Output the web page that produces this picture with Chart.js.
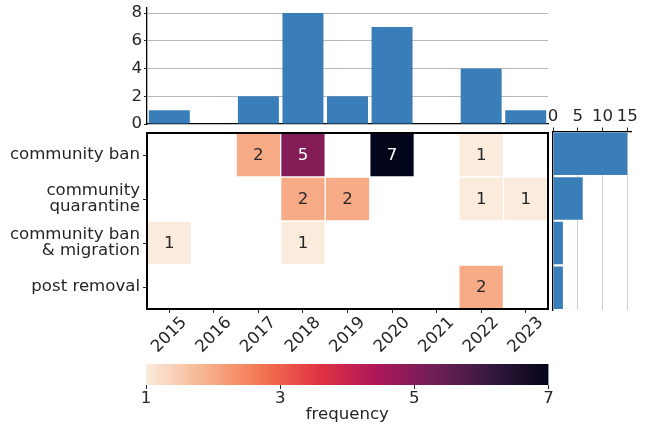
<!DOCTYPE html>
<html><head><meta charset="utf-8">
<script src="https://cdn.jsdelivr.net/npm/chart.js@4.4.1/dist/chart.umd.min.js"></script>
<style>
html,body{margin:0;padding:0;background:#fff;width:645px;height:429px;overflow:hidden;}
.box{position:absolute;}
</style></head><body>
<div class="box" style="left:0;top:125px;width:552px;height:235px"><canvas id="heat"></canvas></div>
<div class="box" style="left:0;top:0;width:552px;height:128px"><canvas id="topbar"></canvas></div>
<div class="box" style="left:547px;top:100px;width:98px;height:215px"><canvas id="rightbar"></canvas></div>
<div class="box" style="left:100px;top:355px;width:500px;height:74px"><canvas id="cbar"></canvas></div>
<script>
// ---------------- data ----------------
const years = ['2015','2016','2017','2018','2019','2020','2021','2022','2023'];
const categories = ['community ban', 'community quarantine', 'community ban & migration', 'post removal'];
const categoryTickLabels = [['community ban'], ['community', 'quarantine'], ['community ban', '& migration'], ['post removal']];
const communityBan        = [0, 0, 2, 5, 0, 7, 0, 1, 0];
const communityQuarantine = [0, 0, 0, 2, 2, 0, 0, 1, 1];
const banAndMigration     = [1, 0, 0, 1, 0, 0, 0, 0, 0];
const postRemoval         = [0, 0, 0, 0, 0, 0, 0, 2, 0];
const topTicks = [0, 2, 4, 6, 8];
const rightTicks = [0, 5, 10, 15];
const colorbarTicks = [1, 3, 5, 7];
const colorbarLabel = 'frequency';

// ---------------- derived ----------------
const rows = [communityBan, communityQuarantine, banAndMigration, postRemoval];
const yearTotals = years.map((_, i) => rows.reduce((s, r) => s + r[i], 0));
const rowTotals = rows.map(r => r.reduce((s, v) => s + v, 0));
const nonZero = rows.flat().filter(v => v > 0);
const cbMin = Math.min(...nonZero), cbMax = Math.max(...nonZero);

// ---------------- style ----------------
const FONT = "'DejaVu Sans', sans-serif";
const FS = 16.6;
const TXT = '#262626';
const BAR = '#3a7eb9';
Chart.defaults.font.family = FONT;
Chart.defaults.font.size = FS;
Chart.defaults.color = TXT;

const ROCKET = [[0,'#03051a'],[1/7,'#35193e'],[2/7,'#701f57'],[3/7,'#ad1759'],[4/7,'#e13342'],[5/7,'#f37651'],[6/7,'#f6b48f'],[1,'#faebdd']];
function hex2rgb(h){return [parseInt(h.slice(1,3),16),parseInt(h.slice(3,5),16),parseInt(h.slice(5,7),16)];}
function rocketRGB(p){
  p = Math.max(0, Math.min(1, p));
  for (let i = 0; i < ROCKET.length - 1; i++) {
    const [p0,c0] = ROCKET[i], [p1,c1] = ROCKET[i+1];
    if (p <= p1) {
      const f = (p - p0) / (p1 - p0), a = hex2rgb(c0), b = hex2rgb(c1);
      return a.map((v,k) => Math.round(v + (b[k]-v)*f));
    }
  }
  return hex2rgb(ROCKET[ROCKET.length-1][1]);
}
function heatRGB(v){ return rocketRGB(1 - (v - cbMin) / (cbMax - cbMin)); }
function heatColor(v){ const c = heatRGB(v); return `rgb(${c[0]},${c[1]},${c[2]})`; }
function textColor(v){
  const lin = heatRGB(v).map(x => { x /= 255; return x <= 0.03928 ? x/12.92 : Math.pow((x+0.055)/1.055, 2.4); });
  const L = 0.2126*lin[0] + 0.7152*lin[1] + 0.0722*lin[2];
  return L > 0.408 ? TXT : '#ffffff';
}
function zeroPad(s){ s.paddingTop = 0; s.paddingBottom = 0; s.paddingLeft = 0; s.paddingRight = 0; }
const common = { animation:false, responsive:true, maintainAspectRatio:false,
  plugins:{ legend:{display:false}, tooltip:{enabled:false} } };

// ---------------- heatmap ----------------
const cellLabels = {
  id:'cellLabels',
  afterDatasetsDraw(chart){
    const ctx = chart.ctx;
    ctx.save();
    ctx.font = `${FS}px ${FONT}`;
    ctx.textAlign = 'center';
    ctx.textBaseline = 'middle';
    chart.data.datasets.forEach((ds, di) => {
      chart.getDatasetMeta(di).data.forEach((el, i) => {
        const v = ds.counts[i];
        if (!v) return;
        const p = el.getCenterPoint();
        ctx.fillStyle = textColor(v);
        ctx.fillText(String(v), p.x, p.y + 1);
      });
    });
    ctx.restore();
  }
};
const frame = {
  id:'frame',
  afterDraw(chart){
    const {ctx, chartArea:a} = chart;
    ctx.save(); ctx.strokeStyle = '#000'; ctx.lineWidth = 2;
    ctx.strokeRect(a.left, a.top, a.right - a.left, a.bottom - a.top);
    ctx.restore();
  }
};
new Chart(document.getElementById('heat'), {
  type:'bar',
  data:{
    labels: years,
    datasets: rows.map((r, ri) => ({
      label: categories[ri],
      counts: r,
      data: r.map(v => v > 0 ? [ri - 0.5, ri + 0.5] : null),
      backgroundColor: r.map(v => v > 0 ? heatColor(v) : 'rgba(0,0,0,0)'),
      borderColor:'#ffffff', borderWidth:1, borderSkipped:false,
      grouped:false, categoryPercentage:1, barPercentage:1
    }))
  },
  options:{ ...common,
    layout:{padding:{top:8, right:4, left:0, bottom:0}},
    scales:{
      x:{ ticks:{autoSkip:false, minRotation:45, maxRotation:45, padding:0, labelOffset:15},
          grid:{display:true, offset:false, drawOnChartArea:false, tickLength:4, tickColor:TXT},
          border:{display:false},
          afterFit:s => { s.height = 51; zeroPad(s); } },
      y:{ type:'linear', reverse:true, min:-0.5, max:rows.length - 0.5,
          afterBuildTicks:s => { s.ticks = categories.map((_, i) => ({value:i})); },
          ticks:{ callback:v => categoryTickLabels[v], padding:3, font:{lineHeight:0.95} },
          grid:{display:true, drawOnChartArea:false, tickLength:4, tickColor:TXT},
          border:{display:false},
          afterFit:s => { s.width = 147; zeroPad(s); } }
    }
  },
  plugins:[cellLabels, frame]
});

// ---------------- top bars ----------------
new Chart(document.getElementById('topbar'), {
  type:'bar',
  data:{ labels: years, datasets:[{ data: yearTotals, backgroundColor: BAR, categoryPercentage:1, barPercentage:0.92 }] },
  options:{ ...common,
    layout:{padding:{top:7.5, right:4, left:0, bottom:0}},
    scales:{
      x:{ ticks:{display:false}, grid:{display:false, drawTicks:false},
          border:{display:true, color:'#000', width:1.3},
          afterFit:s => { s.height = 4; zeroPad(s); } },
      y:{ min:0, max:Math.max(...yearTotals) * 1.05,
          afterBuildTicks:s => { s.ticks = topTicks.map(v => ({value:v})); },
          ticks:{padding:2},
          grid:{ color:c => c.tick && c.tick.value === 0 ? 'rgba(0,0,0,0)' : '#b8b8b8', lineWidth:1, tickColor:TXT, tickLength:3 },
          border:{display:true, color:'#000', width:1.3},
          afterFit:s => { s.width = 147; zeroPad(s); } }
    }
  }
});

// ---------------- right bars ----------------
new Chart(document.getElementById('rightbar'), {
  type:'bar',
  data:{ labels: categories, datasets:[{ data: rowTotals, backgroundColor: BAR, categoryPercentage:1, barPercentage:0.95 }] },
  options:{ ...common, indexAxis:'y',
    layout:{padding:{top:0, right:14, left:2, bottom:5}},
    scales:{
      x:{ position:'top', min:0, max:Math.max(...rowTotals) * 1.05,
          afterBuildTicks:s => { s.ticks = rightTicks.map(v => ({value:v})); },
          ticks:{padding:1, autoSkip:false, maxRotation:0},
          grid:{ color:c => c.tick && c.tick.value === 0 ? 'rgba(0,0,0,0)' : '#cfcfcf', tickColor:TXT, tickLength:4 },
          border:{display:true, color:'#000', width:1.3},
          afterFit:s => { s.height = 31.5; zeroPad(s); } },
      y:{ ticks:{display:false}, grid:{display:false, drawTicks:false},
          border:{display:true, color:'#000', width:1.3},
          afterFit:s => { s.width = 4; zeroPad(s); } }
    }
  }
});

// ---------------- colorbar ----------------
function cbarGradient(ctx){
  const chart = ctx.chart, xs = chart.scales.x;
  if (!chart.chartArea || !xs) return heatColor(cbMin);
  const x0 = xs.getPixelForValue(cbMin), x1 = xs.getPixelForValue(cbMax);
  const g = chart.ctx.createLinearGradient(x0, 0, x1, 0);
  for (let i = 0; i <= 60; i++) {
    const t = i / 60;
    g.addColorStop(t, heatColor(cbMin + t * (cbMax - cbMin)));
  }
  return g;
}
new Chart(document.getElementById('cbar'), {
  type:'bar',
  data:{ labels:[colorbarLabel], datasets:[{ data:[[cbMin, cbMax]], backgroundColor: cbarGradient, borderWidth:0, categoryPercentage:1, barPercentage:1 }] },
  options:{ ...common, indexAxis:'y',
    layout:{padding:{top:9, right:51.5, left:46, bottom:0}},
    scales:{
      x:{ type:'linear', min:cbMin, max:cbMax,
          afterBuildTicks:s => { s.ticks = colorbarTicks.map(v => ({value:v})); },
          ticks:{padding:0, autoSkip:false, maxRotation:0},
          grid:{display:true, drawOnChartArea:false, tickLength:4, tickColor:TXT},
          border:{display:false},
          title:{display:true, text:colorbarLabel, padding:{top:0, bottom:4}},
          afterFit:s => { s.height = 44; zeroPad(s); } },
      y:{ display:false }
    }
  }
});
</script>
</body></html>
